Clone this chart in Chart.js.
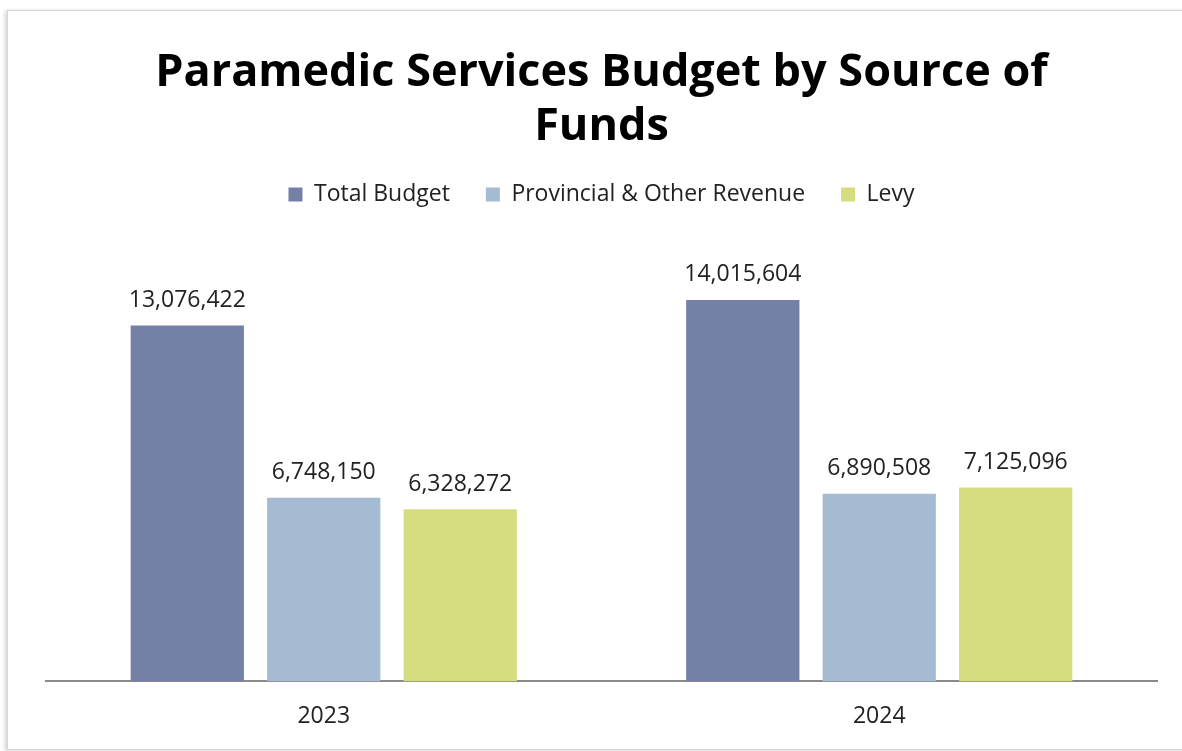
<!DOCTYPE html>
<html>
<head>
<meta charset="utf-8">
<script src="https://cdn.jsdelivr.net/npm/chart.js@4/dist/chart.umd.min.js"></script>
<style>
  html, body { margin: 0; padding: 0; background: #fff; }
  #wrap { position: relative; width: 1182px; height: 751px; overflow: hidden; }
  .card {
    position: absolute; left: 7px; top: 10px; width: 1200px; height: 738px;
    border: 1px solid #d6d6d6; box-shadow: -2px 1px 4px rgba(0,0,0,0.18);
    background: #fff;
  }
  #chart { position: absolute; left: 0; top: 0; }
</style>
</head>
<body>
<div id="wrap">
  <div class="card"></div>
  <canvas id="chart" width="1182" height="751"></canvas>
</div>
<script>
const years = ['2023', '2024'];
const totalBudget = [13076422, 14015604];
const provincialRevenue = [6748150, 6890508];
const levy = [6328272, 7125096];

const FONT = '"Open Sans", Lato, sans-serif';

// draw the value above each bar
const valueLabels = {
  id: 'valueLabels',
  afterDatasetsDraw(chart) {
    const ctx = chart.ctx;
    ctx.save();
    ctx.font = '23px ' + FONT;
    ctx.fillStyle = '#222';
    ctx.textAlign = 'center';
    ctx.textBaseline = 'middle';
    chart.data.datasets.forEach((ds, i) => {
      chart.getDatasetMeta(i).data.forEach((bar, j) => {
        ctx.fillText(ds.data[j].toLocaleString('en-US'), bar.x, bar.y - 25);
      });
    });
    ctx.restore();
  }
};

new Chart(document.getElementById('chart'), {
  type: 'bar',
  data: {
    labels: years,
    datasets: [
      { label: 'Total Budget', data: totalBudget, backgroundColor: '#7580a6' },
      { label: 'Provincial & Other Revenue', data: provincialRevenue, backgroundColor: '#a5bbd2' },
      { label: 'Levy', data: levy, backgroundColor: '#d6dc80' }
    ]
  },
  options: {
    responsive: false,
    animation: false,
    devicePixelRatio: 1,
    categoryPercentage: 0.737,
    barPercentage: 0.83,
    layout: { padding: { left: 46, right: 25, top: 46, bottom: 0 } },
    plugins: {
      title: {
        display: true,
        text: ['Paramedic Services Budget by Source of', 'Funds'],
        color: '#000',
        font: { family: FONT, size: 45, weight: 'bold', lineHeight: 1.2 },
        padding: { top: 0, bottom: -7 }
      },
      legend: {
        position: 'top',
        labels: {
          color: '#222',
          font: { family: FONT, size: 23 },
          boxWidth: 14,
          boxHeight: 14,
          padding: 36
        }
      },
      tooltip: { enabled: false }
    },
    scales: {
      x: {
        grid: { display: false, drawTicks: false },
        border: { color: '#8a8a8a', width: 2 },
        ticks: { color: '#222', font: { family: FONT, size: 23 }, padding: 21 }
      },
      y: {
        display: false,
        min: 0,
        max: 17100000
      }
    }
  },
  plugins: [valueLabels]
});
</script>
</body>
</html>
